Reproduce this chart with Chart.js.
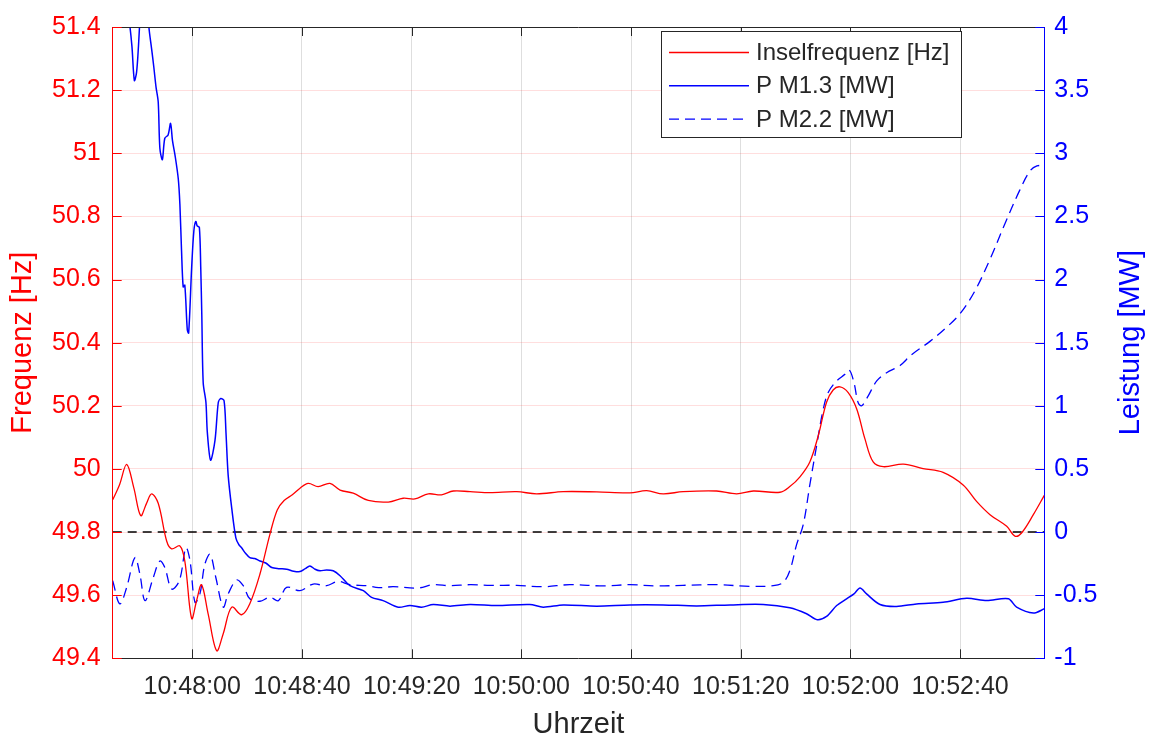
<!DOCTYPE html>
<html>
<head>
<meta charset="utf-8">
<script src="https://cdn.jsdelivr.net/npm/chart.js@4.4.1/dist/chart.umd.min.js"></script>
<style>
  html, body { margin: 0; padding: 0; background: #fff; }
</style>
</head>
<body>
<canvas id="chart" width="1150" height="740"></canvas>
<script>
// Inselnetz-Versuch: Frequenz und Wirkleistung ueber der Uhrzeit
// Zeit in Sekunden relativ zu 10:48:00

const startTime = 10 * 3600 + 48 * 60;
const xTicks = [0, 40, 80, 120, 160, 200, 240, 280];
const freqTicks = [49.4, 49.6, 49.8, 50, 50.2, 50.4, 50.6, 50.8, 51, 51.2, 51.4];
const powerTicks = [-1, -0.5, 0, 0.5, 1, 1.5, 2, 2.5, 3, 3.5, 4];

// Inselfrequenz [Hz]
const inselfrequenz = [
  [-29, 49.902], [-26.5, 49.95], [-23.9, 50.014], [-21.3, 49.94], [-18.8, 49.852],
  [-16.7, 49.89], [-14.8, 49.921], [-12.4, 49.891], [-9.3, 49.771], [-7.5, 49.747],
  [-4.5, 49.756], [-2.7, 49.708], [-0.2, 49.526], [1.6, 49.583], [3.4, 49.633],
  [5.8, 49.541], [8.9, 49.424], [11.3, 49.478], [14.4, 49.562], [18.0, 49.538],
  [21.0, 49.573], [24.7, 49.667], [28.3, 49.792], [31.0, 49.87], [33.5, 49.90],
  [36.5, 49.918], [39.3, 49.939], [42.3, 49.954], [45.9, 49.944], [50.2, 49.954],
  [53.9, 49.933], [58.7, 49.923], [64.2, 49.90], [71.5, 49.895], [76.9, 49.907],
  [81.2, 49.905], [86.1, 49.921], [90.9, 49.918], [95.2, 49.930], [101.3, 49.928],
  [108.6, 49.925], [118.3, 49.928], [125.6, 49.921], [135.3, 49.928], [147.5, 49.927],
  [159.6, 49.924], [165.7, 49.931], [171.7, 49.921], [179, 49.928], [191.2, 49.930],
  [198.5, 49.921], [204.6, 49.930], [214.3, 49.926], [217.9, 49.944], [221.6, 49.975],
  [225.2, 50.022], [228.3, 50.106], [231.3, 50.211], [233.7, 50.250], [236.2, 50.260],
  [239.2, 50.242], [242.3, 50.190], [245.3, 50.095], [248.3, 50.022], [252.0, 50.007],
  [259.3, 50.015], [266.5, 50.001], [273.8, 49.989], [281.1, 49.949], [286.0, 49.897],
  [290.9, 49.855], [297.0, 49.818], [300.0, 49.787], [302.4, 49.797], [306.7, 49.855],
  [310.7, 49.916]
];

// P M1.3 [MW]
const pM13 = [
  [-29, 4.6], [-25, 4.3], [-23, 4.05], [-22.0, 3.85], [-21.1, 3.576], [-20.3, 3.641],
  [-19.6, 3.85], [-19.1, 4.05], [-18, 4.4], [-16.5, 4.3], [-15.8, 4.0], [-14.8, 3.825],
  [-14.0, 3.681], [-13.2, 3.524], [-12.4, 3.406], [-11.8, 3.04], [-10.9, 2.949],
  [-10.0, 3.119], [-8.8, 3.145], [-7.9, 3.237], [-7.2, 3.1], [-6.3, 2.988], [-5.1, 2.8],
  [-4.5, 2.596], [-3.9, 2.229], [-3.3, 1.942], [-2.7, 1.955], [-1.8, 1.602], [-1.3, 1.576],
  [-0.2, 2.099], [0.6, 2.386], [1.3, 2.460], [1.8, 2.425], [2.6, 2.413], [3.1, 2.099],
  [3.5, 1.707], [4.0, 1.183], [5.0, 1.026], [5.5, 0.791], [6.7, 0.569], [8.3, 0.726],
  [9.5, 1.026], [10.4, 1.058], [11.6, 1.040], [12.3, 0.791], [13.1, 0.451], [14.4, 0.189],
  [15.9, -0.046], [17.0, -0.10], [18.0, -0.125], [19.5, -0.17], [21.0, -0.203],
  [22.8, -0.21], [24.7, -0.229], [26.8, -0.245], [29.0, -0.281], [31.5, -0.29],
  [34.4, -0.294], [37.0, -0.31], [39.3, -0.313], [41.2, -0.29], [42.9, -0.268],
  [44.8, -0.295], [46.6, -0.307], [49.0, -0.30], [51.4, -0.307], [53.9, -0.346],
  [57.5, -0.425], [62.4, -0.464], [65.4, -0.517], [69.6, -0.543], [75.1, -0.595],
  [79.4, -0.582], [83.6, -0.595], [87.9, -0.574], [94.0, -0.587], [101.3, -0.574],
  [111.0, -0.582], [123.1, -0.574], [128.0, -0.595], [135.3, -0.577], [147.5, -0.587],
  [159.6, -0.577], [171.7, -0.577], [183.9, -0.585], [196.1, -0.577], [208.2, -0.574],
  [217.9, -0.600], [224, -0.647], [227.9, -0.694], [231.3, -0.668], [235, -0.582],
  [238.6, -0.529], [241.3, -0.490], [243.5, -0.443], [245.9, -0.490], [250.8, -0.574],
  [256.8, -0.590], [264.1, -0.569], [273.8, -0.556], [282.4, -0.525], [289.7, -0.543],
  [297.6, -0.529], [300.6, -0.595], [306.7, -0.642], [310.7, -0.608]
];

// P M2.2 [MW]
const pM22 = [
  [-29, -0.386], [-26.4, -0.569], [-23.9, -0.438], [-20.9, -0.203], [-19.1, -0.333],
  [-17.2, -0.543], [-14.2, -0.360], [-11.8, -0.229], [-10, -0.281], [-7.5, -0.451],
  [-4.7, -0.386], [-2.3, -0.125], [-0.8, -0.229], [1, -0.556], [2.8, -0.490],
  [4.6, -0.255], [6.5, -0.177], [8.6, -0.360], [11.3, -0.595], [13.1, -0.490],
  [16.2, -0.380], [18.6, -0.425], [21, -0.529], [24.7, -0.548], [28.3, -0.516],
  [31.4, -0.543], [34.4, -0.438], [39.3, -0.464], [44.1, -0.412], [49, -0.425],
  [53.2, -0.391], [57.5, -0.417], [63.6, -0.425], [68, -0.44], [73.3, -0.433],
  [82.4, -0.443], [87.9, -0.417], [94, -0.425], [101.3, -0.417], [108.6, -0.422],
  [118.3, -0.422], [128, -0.433], [137.7, -0.417], [149.9, -0.427], [159.6, -0.417],
  [169.3, -0.427], [179, -0.422], [191.2, -0.417], [203.4, -0.430], [211.9, -0.425],
  [215.5, -0.399], [217.9, -0.307], [220.4, -0.098], [222.8, 0.059], [225.2, 0.373],
  [227.7, 0.687], [230.1, 0.974], [231.9, 1.105], [235, 1.197], [238, 1.249],
  [239.6, 1.283], [241.3, 1.183], [242.8, 1.026], [244.1, 1.0], [246.5, 1.079],
  [249.6, 1.197], [253.2, 1.262], [258.1, 1.319], [262.3, 1.405], [269, 1.51],
  [275, 1.62], [280, 1.73], [285.4, 1.91], [290.9, 2.16], [296.3, 2.44],
  [301.8, 2.71], [305.5, 2.86], [308, 2.9], [310.7, 2.9]
];

// Grenzfrequenz 49.8 Hz (= 0 MW)
const grenzFrequenz = 49.8;

const FONT = "'Liberation Sans', Arial, Helvetica, sans-serif";
const AXIS_GREY = '#262626';

function toPoints(rows) {
  return rows.map(r => ({ x: r[0], y: r[1] }));
}

function formatTime(sec) {
  const t = startTime + Math.round(sec);
  const pad = n => String(n).padStart(2, '0');
  return `${pad(Math.floor(t / 3600))}:${pad(Math.floor(t / 60) % 60)}:${pad(t % 60)}`;
}

function formatNum(v) {
  return String(Number(v.toFixed(2)));
}

// inward ticks, top border, right axis title and legend box like the MATLAB figure
const framePlugin = {
  id: 'framePlugin',
  afterDraw(chart) {
    const { ctx, chartArea: a, scales } = chart;
    const len = 9;
    ctx.save();
    ctx.lineWidth = 1;

    ctx.strokeStyle = AXIS_GREY;
    ctx.beginPath();
    ctx.moveTo(a.left, a.top + 0.5);
    ctx.lineTo(a.right, a.top + 0.5);
    ctx.stroke();

    ctx.beginPath();
    scales.x.ticks.forEach(t => {
      const px = Math.round(scales.x.getPixelForValue(t.value)) + 0.5;
      ctx.moveTo(px, a.bottom);
      ctx.lineTo(px, a.bottom - len);
      ctx.moveTo(px, a.top);
      ctx.lineTo(px, a.top + len);
    });
    ctx.stroke();

    ctx.strokeStyle = '#ff0000';
    ctx.beginPath();
    scales.y.ticks.forEach(t => {
      const py = Math.round(scales.y.getPixelForValue(t.value)) + 0.5;
      ctx.moveTo(a.left, py);
      ctx.lineTo(a.left + len, py);
    });
    ctx.stroke();

    ctx.strokeStyle = '#0000ff';
    ctx.beginPath();
    scales.y1.ticks.forEach(t => {
      const py = Math.round(scales.y1.getPixelForValue(t.value)) + 0.5;
      ctx.moveTo(a.right, py);
      ctx.lineTo(a.right - len, py);
    });
    ctx.stroke();

    // right axis title, reading bottom to top
    ctx.save();
    ctx.translate(1131, (a.top + a.bottom) / 2);
    ctx.rotate(-Math.PI / 2);
    ctx.font = `29px ${FONT}`;
    ctx.fillStyle = '#0000ff';
    ctx.textAlign = 'center';
    ctx.textBaseline = 'middle';
    ctx.fillText('Leistung [MW]', 0, 0);
    ctx.restore();

    // legend
    const items = chart.data.datasets.filter(d => d.label);
    const box = { x: 661.5, y: 31.5, w: 300, h: 106 };
    ctx.fillStyle = '#fff';
    ctx.fillRect(box.x, box.y, box.w, box.h);
    ctx.strokeStyle = AXIS_GREY;
    ctx.strokeRect(box.x, box.y, box.w, box.h);
    ctx.font = `24px ${FONT}`;
    ctx.textBaseline = 'middle';
    ctx.textAlign = 'left';
    items.forEach((d, i) => {
      const y = 52.5 + i * 33.3;
      ctx.strokeStyle = d.borderColor;
      ctx.lineWidth = d.borderWidth;
      ctx.setLineDash(d.borderDash || []);
      ctx.beginPath();
      ctx.moveTo(669, y);
      ctx.lineTo(749, y);
      ctx.stroke();
      ctx.setLineDash([]);
      ctx.fillStyle = AXIS_GREY;
      ctx.fillText(d.label, 756, y + 1);
    });
    ctx.restore();
  }
};

new Chart(document.getElementById('chart'), {
  type: 'line',
  data: {
    datasets: [
      {
        label: 'Inselfrequenz [Hz]',
        data: toPoints(inselfrequenz),
        yAxisID: 'y',
        borderColor: '#ff0000',
        borderWidth: 1.3,
        tension: 0.35
      },
      {
        label: 'P M1.3 [MW]',
        data: toPoints(pM13),
        yAxisID: 'y1',
        borderColor: '#0000ff',
        borderWidth: 1.5,
        tension: 0.3
      },
      {
        label: 'P M2.2 [MW]',
        data: toPoints(pM22),
        yAxisID: 'y1',
        borderColor: '#0000ff',
        borderWidth: 1.3,
        borderDash: [10, 6],
        tension: 0.35
      },
      {
        label: '',
        data: [{ x: -29, y: grenzFrequenz }, { x: 310.7, y: grenzFrequenz }],
        yAxisID: 'y',
        borderColor: '#000000',
        borderWidth: 1.5,
        borderDash: [9, 6]
      }
    ]
  },
  options: {
    responsive: false,
    animation: false,
    devicePixelRatio: 1,
    layout: { padding: { top: 21, left: 0, right: 0, bottom: 0 } },
    elements: { point: { radius: 0 } },
    plugins: {
      legend: { display: false },
      tooltip: { enabled: false }
    },
    scales: {
      x: {
        type: 'linear',
        min: -29,
        max: 310.7,
        afterBuildTicks: scale => { scale.ticks = xTicks.map(v => ({ value: v })); },
        afterFit: scale => { scale.height = 81.7; },
        grid: { color: 'rgba(0,0,0,0.13)', drawTicks: false },
        border: { color: AXIS_GREY, width: 1 },
        ticks: {
          autoSkip: false,
          maxRotation: 0,
          padding: 14,
          color: AXIS_GREY,
          font: { family: FONT, size: 25 },
          callback: v => formatTime(v)
        },
        title: {
          display: true,
          text: 'Uhrzeit',
          color: AXIS_GREY,
          font: { family: FONT, size: 29, lineHeight: 1 },
          padding: { top: 0, bottom: 1 }
        }
      },
      y: {
        position: 'left',
        min: 49.4,
        max: 51.4,
        afterBuildTicks: scale => { scale.ticks = freqTicks.map(v => ({ value: v })); },
        afterFit: scale => { scale.width = 112.7; },
        grid: { color: 'rgba(255,0,0,0.13)', drawTicks: false },
        border: { color: '#ff0000', width: 1 },
        ticks: {
          padding: 12,
          color: '#ff0000',
          font: { family: FONT, size: 25 },
          callback: v => formatNum(v)
        },
        title: {
          display: true,
          text: 'Frequenz [Hz]',
          color: '#ff0000',
          font: { family: FONT, size: 29, lineHeight: 1 },
          padding: { top: 8, bottom: 0 }
        }
      },
      y1: {
        position: 'right',
        min: -1,
        max: 4,
        afterBuildTicks: scale => { scale.ticks = powerTicks.map(v => ({ value: v })); },
        afterFit: scale => { scale.width = 105.7; },
        grid: { drawOnChartArea: false, drawTicks: false },
        border: { color: '#0000ff', width: 1 },
        ticks: {
          padding: 10,
          color: '#0000ff',
          font: { family: FONT, size: 25 },
          callback: v => formatNum(v)
        },
        title: { display: false }
      }
    }
  },
  plugins: [framePlugin]
});
</script>
</body>
</html>
